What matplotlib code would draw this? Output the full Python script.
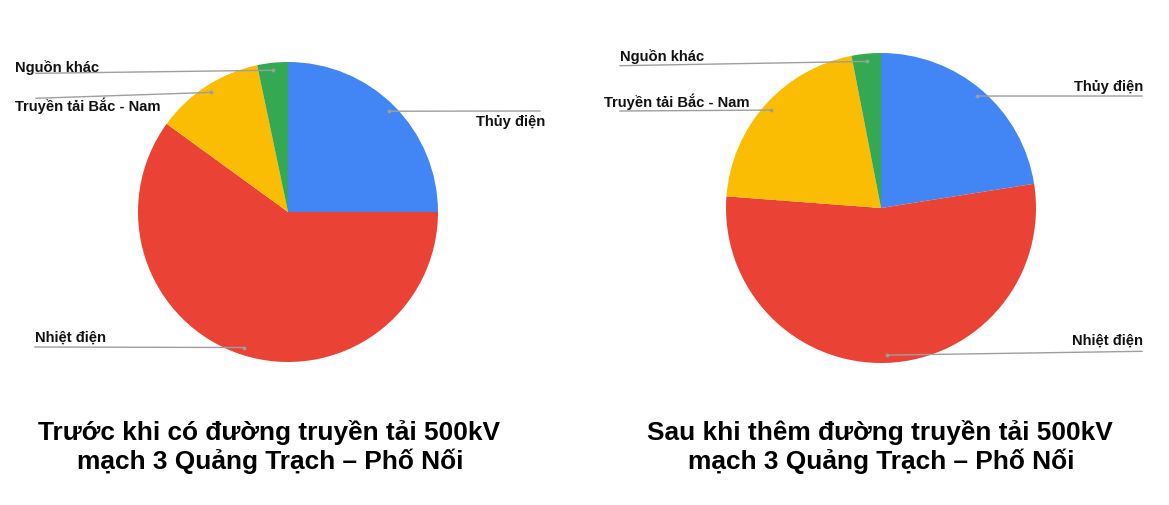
import matplotlib
matplotlib.use("Agg")
import matplotlib.pyplot as plt
from matplotlib.lines import Line2D
import numpy as np

# ---------------- data ----------------
categories = ["Thủy điện", "Nhiệt điện", "Truyền tải Bắc - Nam", "Nguồn khác"]
before_values = [25.0, 60.0, 11.7, 3.3]
after_values = [22.5, 53.7, 20.75, 3.05]
colors = ["#4285F4", "#EA4335", "#FBBC04", "#34A853"]
titles = [
    "Trước khi có đường truyền tải 500kV\nmạch 3 Quảng Trạch – Phố Nối",
    "Sau khi thêm đường truyền tải 500kV\nmạch 3 Quảng Trạch – Phố Nối",
]

# ---------------- layout (pixels) ----------------
W, H = 1169, 505
plt.rcParams["font.family"] = ["Liberation Sans", "DejaVu Sans"]
fig = plt.figure(figsize=(W / 100, H / 100), dpi=100)

def fx(x):
    return x / W

def fy(y):
    return 1 - y / H

charts = [
    dict(values=before_values, center=(288, 212), r=150, title_x=269,
         # per category: text x, text baseline y, ha, leader end x, leader end y
         labels=[(545, 126, "right", 540, 111),
                 (35, 341.5, "left", 35, 347),
                 (15, 111.5, "left", 36, 98.3),
                 (15, 72, "left", 36, 73.3)]),
    dict(values=after_values, center=(881, 208), r=155, title_x=880,
         labels=[(1143, 91, "right", 1142, 96),
                 (1143, 345, "right", 1142, 351.3),
                 (604, 107, "left", 620, 111),
                 (620, 61, "left", 620, 65.7)]),
]

line_color = "#9E9E9E"
for ch in charts:
    cx, cy = ch["center"]
    r = ch["r"]
    ax = fig.add_axes([fx(cx - r), fy(cy + r), 2 * r / W, 2 * r / H])
    wedges, _ = ax.pie(ch["values"], colors=colors, startangle=90,
                       counterclock=False, radius=1.0,
                       wedgeprops=dict(linewidth=0))
    ax.set_xlim(-1, 1)
    ax.set_ylim(-1, 1)
    ax.set_aspect("auto")
    ax.axis("off")
    for w, lab, (tx, ty, ha, lx, ly) in zip(wedges, categories, ch["labels"]):
        mid = np.deg2rad((w.theta1 + w.theta2) / 2)
        dx = cx + 0.95 * r * np.cos(mid)
        dy = cy - 0.95 * r * np.sin(mid)
        fig.add_artist(Line2D([fx(dx), fx(lx)], [fy(dy), fy(ly)],
                              transform=fig.transFigure, color=line_color,
                              linewidth=1.0))
        fig.add_artist(Line2D([fx(dx)], [fy(dy)], transform=fig.transFigure,
                              marker="o", markersize=2.8, color=line_color,
                              markeredgewidth=0))
        fig.text(fx(tx), fy(ty), lab, ha=ha, va="baseline", fontsize=10.6,
                 fontweight="bold", color="#111111")

for ch, t in zip(charts, titles):
    l1, l2 = t.split("\n")
    fig.text(fx(ch["title_x"]), fy(440), l1, ha="center", va="baseline",
             fontsize=18.9, fontweight="bold", color="black")
    fig.text(fx(ch["title_x"] + 1), fy(469.5), l2, ha="center", va="baseline",
             fontsize=18.9, fontweight="bold", color="black")

fig.savefig("out.png", dpi=100, facecolor="white")
